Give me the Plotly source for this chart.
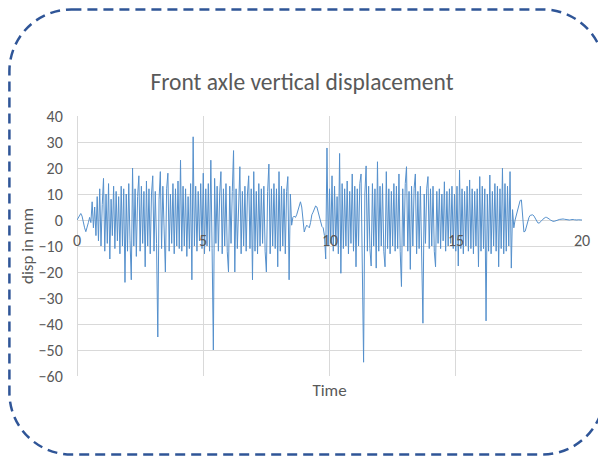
import numpy as np
import plotly.graph_objects as go

# Displacement (mm) sampled every 0.05 s, one row per second (t = 0 .. 20)
row00 = [0, 1, 2, 2.5, 1.5, -1, -3, -4.5, -3, -1, 1, -1, 7, -3, 5, -6, 9, -8, 12, -10]
row01 = [6, 16, -12, 10, -9, 14, -15, 8, -6, 13, -11, 11, -8, 9, -13, 13, -10, 12, -24, 10]
row02 = [-12, 14, -8, -23, 20, -10, 12, -14, 9, 17, -12, 13, -9, 11, -18, 15, -10, 12, -13, 10]
row03 = [17, -12, 11, -9, -45, 8, 18.6, -11, 13, -10, -20, 12, 18, -12, 10, -9, 14, -13, 12, -10]
row04 = [15, -11, 23, -12, 13, -10, 12, -14, 9, -11, 14, -23, 32, -10, 13, -12, 11, -8, 14, -11]
row05 = [18, -13, 12, -10, 14, -12, 23, -11, -50, 16, -9, 13, -12, 10, 18.6, -13, 12, -10, 14, -12]
row06 = [-20, 13, -9, 11, 26.7, -20, 12, -11, 9, 20.5, -13, 11, -10, 13, -12, 10, 17, -11, 12, -23]
row07 = [18.6, -12, 11, -13, 14, -10, 12, -9, 13, -12, -20, 11, 21.5, -13, 12, -10, 14, -11, 12, -18]
row08 = [18.6, -12, 13, -10, 12, -13, 11, 16.7, -23, 10, -2, 1, 1.5, 1, 2, 4, 6, 7, 5, 0]
row09 = [-4.6, -3, -2, -2.5, -3, -1, 2, 3, 4.5, 5.4, 5, 3, 1, -1, -2.5, -3, -6, -15, 27.7, -10]
row10 = [12, -9, 17, -12, 13, -10, 9, -13, 25.6, -20.5, 14, -11, 12, -10, 15, -13, 11, -9, 17.7, -12]
row11 = [13, -18, 12, -10, 14, 17.7, -13, -54.7, 10, 20.8, -12, 13, -11, -17.7, 14, -10, 12, -18.5, 22.4, -12]
row12 = [13, -10, 14, -12, -18, 18.6, -11, 12, -13, 11, -10, 14, -12, 13, -11, 17.7, -12, -25.6, 12, -10]
row13 = [14, 20.5, -12, 11, -19, 13, -10, 12, 17.7, -13, 11, -11, 13, -12, -39.7, 10, -9, 12, 16.7, -11]
row14 = [12, -10, 13, -12, -18, 11, -9, 12, -11, 10, -8, 14.7, -12, 11, -10, 12, -9, 13, -11, 10]
row15 = [-12, 13, -17.7, 19.2, -11, 12, -13, 11, -10, 13, -12, 15.4, -11, 12, -13, 11, -10, 12, -18, 16.7]
row16 = [-12, 13, -11, 12, -38.8, 10, -12, 17.3, -13, 11, -10, 14, -12, 13, -18, 12, -11, 19.9, -13, 14]
row17 = [-12, 13, -10, 18.6, -18.5, 4, -3, 0, 2, 4, 6, 7.5, 7.7, 2, -4.6, -4.3, -2.5, -0.5, 1, 1.8]
row18 = [2, 2, 1.5, 0.5, -0.5, -1.1, -1.2, -0.9, -0.3, 0.3, 0.7, 1, 1, 0.8, 0.4, 0, -0.3, -0.5, -0.5, -0.4]
row19 = [-0.2, 0, 0.2, 0.3, 0.4, 0.4, 0.3, 0.2, 0.1, 0, 0, 0.1, 0.2, 0.2, 0.1, 0, 0, 0.1, 0.1, 0.1]
row20 = [0]

disp_mm = (row00 + row01 + row02 + row03 + row04 + row05 + row06 + row07 + row08 + row09
           + row10 + row11 + row12 + row13 + row14 + row15 + row16 + row17 + row18 + row19 + row20)
time_s = np.arange(len(disp_mm)) * 0.05

x_ticks = [0, 5, 10, 15, 20]
x_tick_labels = ["0", "5", "10", "15", "20"]
y_ticks = [40, 30, 20, 10, 0, -10, -20, -30, -40, -50, -60]

FONT = "Carlito, Calibri, Lato, 'Liberation Sans', Arial, sans-serif"
GREY = "#595959"
GRID = "#D9D9D9"

fig = go.Figure()
fig.add_trace(go.Scatter(x=time_s, y=disp_mm, mode="lines",
                         line=dict(color="#5590CC", width=1), showlegend=False))

# page has an 8px body margin, so the figure is sized/placed to compensate
W, H = 598, 450
L, R, T, B = 69, 24, 108, 82
pw, ph = W - L - R, H - T - B

fig.update_layout(
    width=W, height=H,
    margin=dict(l=L, r=R, t=T, b=B, pad=0),
    paper_bgcolor="white", plot_bgcolor="white",
    title=dict(text="Front axle vertical displacement", x=294 / W, xanchor="center",
               y=1 - 74 / H, yanchor="middle",
               font=dict(family=FONT, size=23.5, color=GREY)),
    font=dict(family=FONT, color=GREY),
)
fig.update_xaxes(range=[0, 20], tickvals=x_ticks, showticklabels=False,
                 showgrid=True, gridcolor=GRID, gridwidth=1,
                 zeroline=True, zerolinecolor=GRID, zerolinewidth=1,
                 showline=False,
                 title=dict(text="Time", font=dict(family=FONT, size=17, color=GREY), standoff=8))
fig.update_yaxes(range=[-60, 40], tickvals=y_ticks, showgrid=True, gridcolor=GRID, gridwidth=1,
                 zeroline=True, zerolinecolor=GRID, zerolinewidth=1, showline=False,
                 ticks="outside", ticklen=10, tickcolor="rgba(0,0,0,0)",
                 tickfont=dict(family=FONT, size=16, color=GREY),
                 title=dict(text="disp in mm", font=dict(family=FONT, size=17, color=GREY), standoff=0))

# x tick labels sit next to the y=0 axis line (as in the original)
for xv, lab in zip(x_ticks, x_tick_labels):
    fig.add_annotation(x=xv, y=0, xref="x", yref="y", text=lab, showarrow=False,
                       yanchor="top", yshift=-9, font=dict(family=FONT, size=16, color=GREY))

# dashed rounded border around the whole chart
def P(px, py):
    a, b = (px - L) / pw, (H - B - py) / ph
    return f"{a:.5f},{b:.5f}"

x0, y0, x1, y1, r = 1.4, 1.4, 596.5, 446.5, 62
k = 0.5523 * r
path = (f"M {P(x0 + r, y0)} L {P(x1 - r, y0)} "
        f"C {P(x1 - r + k, y0)} {P(x1, y0 + r - k)} {P(x1, y0 + r)} "
        f"L {P(x1, y1 - r)} "
        f"C {P(x1, y1 - r + k)} {P(x1 - r + k, y1)} {P(x1 - r, y1)} "
        f"L {P(x0 + r, y1)} "
        f"C {P(x0 + r - k, y1)} {P(x0, y1 - r + k)} {P(x0, y1 - r)} "
        f"L {P(x0, y0 + r)} "
        f"C {P(x0, y0 + r - k)} {P(x0 + r - k, y0)} {P(x0 + r, y0)} Z")
fig.add_shape(type="path", path=path, xref="paper", yref="paper",
              line=dict(color="#2F5597", width=2.5, dash="10px,6px"), layer="above")

fig.write_html("out.html")
